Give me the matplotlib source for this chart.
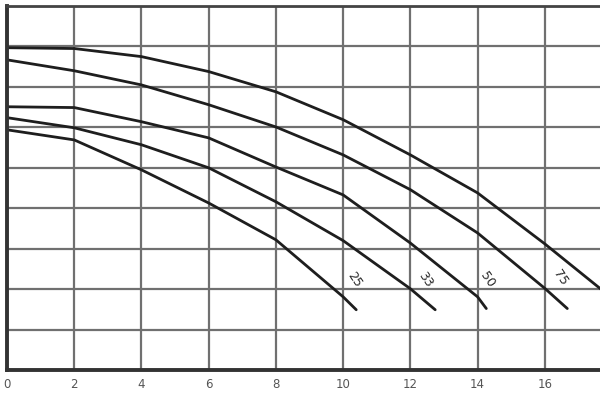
import matplotlib
matplotlib.use('Agg')
import matplotlib.pyplot as plt

# pump curves (flow on x, head on y, 1 grid unit per line)
X_100 = [0, 2, 4, 6, 8, 10, 12, 14, 16, 17.7]
Y_100 = [7.97, 7.95, 7.75, 7.38, 6.88, 6.19, 5.32, 4.38, 3.12, 1.98]

X_75 = [0, 2, 4, 6, 8, 10, 12, 14, 16, 16.67]
Y_75 = [7.67, 7.40, 7.05, 6.56, 6.01, 5.32, 4.46, 3.39, 2.02, 1.52]

X_50 = [0, 2, 4, 6, 8, 10, 12, 14, 14.26]
Y_50 = [6.51, 6.49, 6.14, 5.74, 5.02, 4.33, 3.14, 1.81, 1.52]

X_33 = [0, 2, 4, 6, 8, 10, 12, 12.74]
Y_33 = [6.24, 5.99, 5.57, 5.00, 4.16, 3.20, 2.01, 1.49]

X_25 = [0, 2, 4, 6, 8, 10, 10.39]
Y_25 = [5.94, 5.69, 4.95, 4.13, 3.22, 1.81, 1.49]

LABELS = ['25', '33', '50', '75']
LABEL_X = [10.35, 12.45, 14.3, 16.45]
LABEL_Y = [2.23, 2.23, 2.23, 2.28]

XTICKS = [0, 2, 4, 6, 8, 10, 12, 14, 16]

fig = plt.figure(figsize=(6, 4.15), dpi=100)
ax = fig.add_axes([0.0117, 0.1084, 1.0083, 0.877])

for x, y in [(X_100, Y_100), (X_75, Y_75), (X_50, Y_50), (X_33, Y_33), (X_25, Y_25)]:
    ax.plot(x, y, color='#1e1e1e', linewidth=2, solid_capstyle='round')

for s, x, y in zip(LABELS, LABEL_X, LABEL_Y):
    ax.text(x, y, s, rotation=-56, ha='center', va='center',
            fontsize=9, color='#2a2a2a')

ax.set_xlim(0, 18)
ax.set_ylim(0, 9)
ax.set_xticks(XTICKS)
ax.set_xticklabels([str(t) for t in XTICKS])
ax.set_yticks(range(10))
ax.set_yticklabels([])
ax.tick_params(length=0, labelsize=8.5, labelcolor='#555555', pad=6)
ax.grid(True, color='#707070', linewidth=1.6)
ax.set_axisbelow(True)

for side in ['left', 'bottom']:
    ax.spines[side].set_linewidth(2.8)
    ax.spines[side].set_color('#333333')
ax.spines['top'].set_linewidth(2)
ax.spines['top'].set_color('#444444')
ax.spines['right'].set_visible(False)

fig.savefig('out.png', dpi=100)
